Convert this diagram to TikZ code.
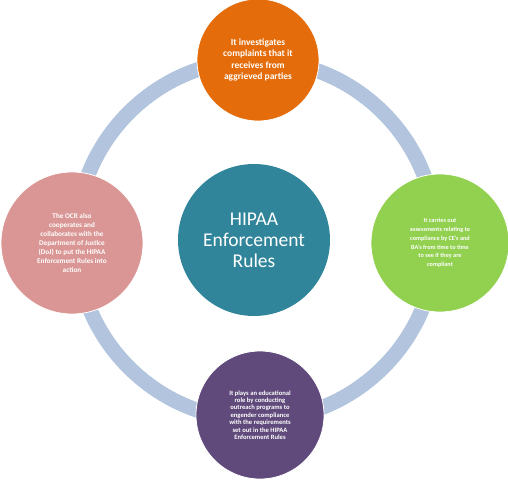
\documentclass[tikz,border=0pt]{standalone}
\usepackage{fontspec}
\setmainfont{Carlito}
\usepackage{tikz}
\usetikzlibrary{positioning}
\definecolor{hipaaRing}{RGB}{179,197,222}
\definecolor{hipaaCore}{RGB}{49,133,155}
\definecolor{hipaaOrange}{RGB}{228,108,10}
\definecolor{hipaaGreen}{RGB}{146,208,80}
\definecolor{hipaaPink}{RGB}{217,150,148}
\definecolor{hipaaPurple}{RGB}{96,74,123}

\begin{document}
\begin{tikzpicture}[
        x=1pt, y=1pt,
        ring/.style={
            circle, draw=hipaaRing, line width=15pt,
            minimum size=360pt, inner sep=0pt
        },
        core/.style={
            circle, fill=hipaaCore, text=white,
            minimum size=152pt, inner sep=0pt, align=center,
            font=\fontsize{19.5}{21}\selectfont
        },
        role/.style={
            circle, draw=white, thick, text=white, inner sep=0pt, align=center,
            font=\bfseries
        }
    ]

    % FRAME
    \useasboundingbox (0,0) rectangle (508,480);

    % RING BEHIND THE ROLES
    \node[ring] (ring) at (256,240) {};

    % CENTRE
    \node[core] (core) at (254,240) {HIPAA\\Enforcement\\Rules};

    % ROLES ROUND THE RING
    \node[role, fill=hipaaOrange, minimum size=122pt,
          font=\bfseries\fontsize{9.5}{11.4}\selectfont] (top) at (258,420)
        {It investigates\\complaints that it\\receives from\\aggrieved parties};
    \node[role, fill=hipaaGreen, minimum size=138pt,
          font=\bfseries\fontsize{6.2}{8.8}\selectfont] (right) at (440,237)
        {It carries out\\assessments relating to\\compliance by CE's and\\BA's from time to time\\to see if they are\\compliant};
    \node[role, fill=hipaaPurple, minimum size=128pt,
          font=\bfseries\fontsize{6.6}{7.4}\selectfont] (bottom) at (260,65)
        {It plays an educational\\role by conducting\\outreach programs to\\engender compliance\\with the requirements\\set out in the HIPAA\\Enforcement Rules};
    \node[role, fill=hipaaPink, minimum size=142pt,
          font=\bfseries\fontsize{7.2}{8.9}\selectfont] (left) at (72,237)
        {The OCR also\\cooperates and\\collaborates with the\\Department of Justice\\(DoJ) to put the HIPAA\\Enforcement Rules into\\action};

\end{tikzpicture}
\end{document}
